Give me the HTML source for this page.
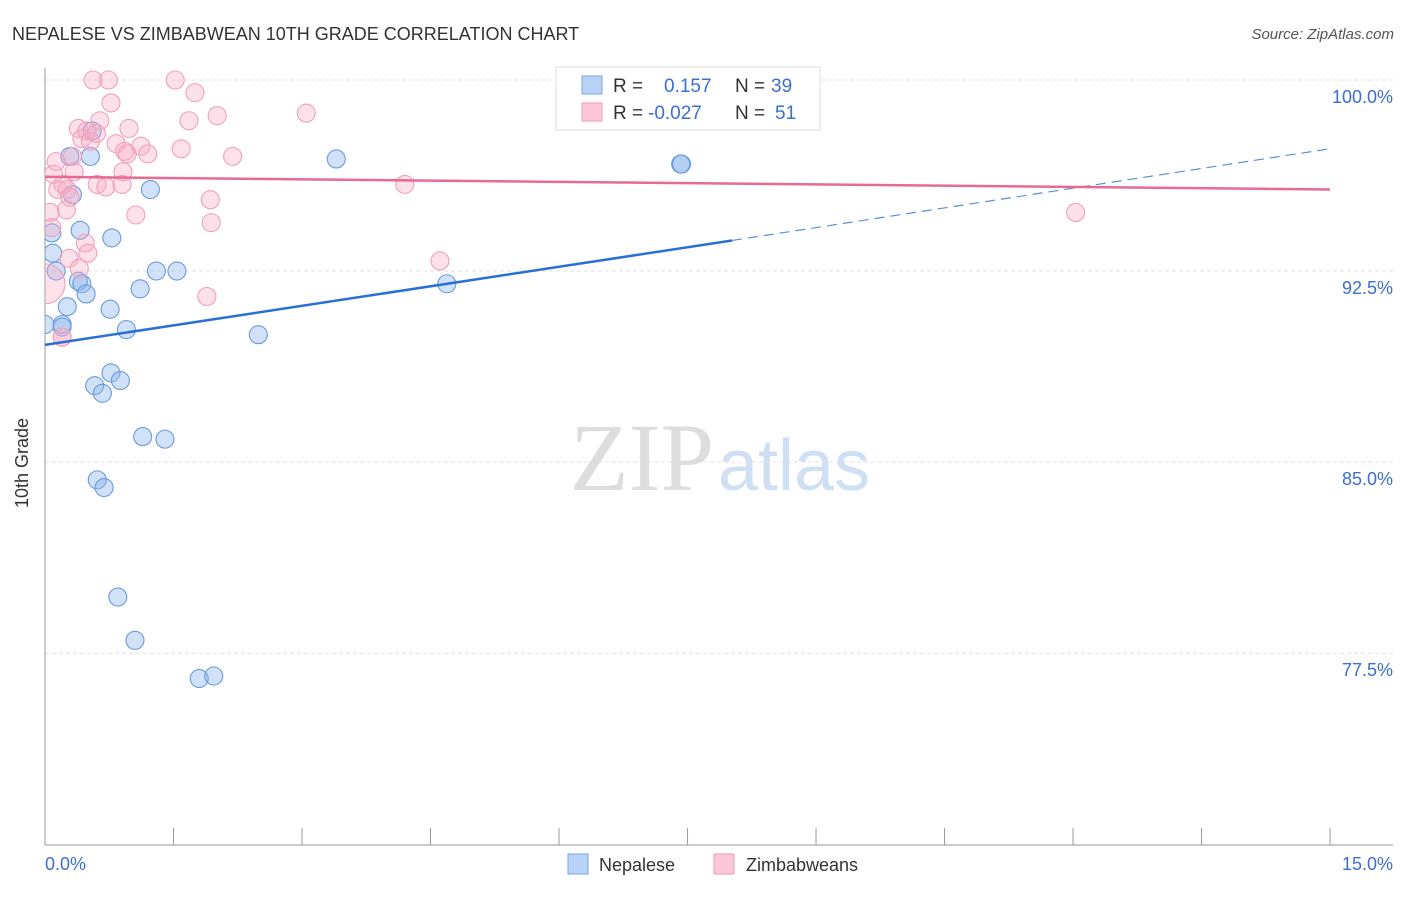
<!DOCTYPE html>
<html><head><meta charset="utf-8"><style>
body{margin:0;background:#fff;font-family:"Liberation Sans",sans-serif;}
</style></head><body>
<svg width="1406" height="892" xmlns="http://www.w3.org/2000/svg">
<defs><clipPath id="plot"><rect x="45" y="60" width="1360" height="785"/></clipPath></defs>
<text x="12" y="40" font-size="18" fill="#333">NEPALESE VS ZIMBABWEAN 10TH GRADE CORRELATION CHART</text>
<text x="1394" y="39" font-size="15" fill="#555" text-anchor="end" font-style="italic">Source: ZipAtlas.com</text>
<g id="grid"></g>
<text x="714" y="490" font-size="96" font-family="Liberation Serif,serif" fill="#ddd" text-anchor="end">ZIP</text>
<text x="718" y="490" font-size="72" fill="#cfe0f4">atlas</text>
<line x1="45" y1="68" x2="45" y2="845" stroke="#999"/>
<line x1="45" y1="845" x2="1393" y2="845" stroke="#999"/>
<g id="ticks"></g>
<g id="pts" clip-path="url(#plot)"></g>
<g id="trend"></g>
<text x="20" y="455" font-size="18" fill="#333" transform="rotate(-90 28 455)" text-anchor="middle">10th Grade</text>
<text x="45" y="870" font-size="18" fill="#3a6fd0">0.0%</text>
<text x="1393" y="870" font-size="18" fill="#3a6fd0" text-anchor="end">15.0%</text>
<g>
<rect x="556" y="67" width="264" height="63" fill="#fff" stroke="#ddd"/>
<rect x="582" y="76" width="20" height="18" fill="#b8d3f5" stroke="#7ba6e0"/>
<rect x="582" y="103" width="20" height="18" fill="#fcc8d7" stroke="#ee9ab3"/>
<text x="613" y="92" font-size="19" fill="#333">R = </text><text x="664" y="92" font-size="19" fill="#3a6fd0">0.157</text>
<text x="735" y="92" font-size="19" fill="#333">N = </text><text x="771" y="92" font-size="19" fill="#3a6fd0">39</text>
<text x="613" y="119" font-size="19" fill="#333">R = </text><text x="648" y="119" font-size="19" fill="#3a6fd0">-0.027</text>
<text x="735" y="119" font-size="19" fill="#333">N = </text><text x="775" y="119" font-size="19" fill="#3a6fd0">51</text>
</g>
<g><rect x="568" y="854" width="20" height="20" fill="#b8d3f5" stroke="#7ba6e0"/><text x="599" y="871" font-size="18" fill="#333">Nepalese</text></g>
<g><rect x="714" y="854" width="20" height="20" fill="#fcc8d7" stroke="#ee9ab3"/><text x="746" y="871" font-size="18" fill="#333">Zimbabweans</text></g>
</svg>
<script>
const yTicks=[100,92.5,85,77.5];
const yTickLabels=["100.0%","92.5%","85.0%","77.5%"];
const xTicks=[0,1.5,3,4.5,6,7.5,9,10.5,12,13.5,15];
const blueX=[0,0.09,0.08,0.13,0.2,0.26,0.29,0.32,0.39,0.41,0.43,0.48,0.53,0.55,0.58,0.61,0.67,0.69,0.76,0.77,0.78,0.85,0.88,0.95,1.05,1.11,1.14,1.23,1.3,1.4,1.54,1.8,1.97,2.49,3.4,4.69,7.42,7.43,0.2];
const blueY=[90.4,93.2,94.0,92.5,90.4,91.1,97.0,95.5,92.1,94.1,92.0,91.6,97.0,98.0,88.0,84.3,87.7,84.0,91.0,88.5,93.8,79.7,88.2,90.2,78.0,91.8,86.0,95.7,92.5,85.9,92.5,76.5,76.6,90.0,96.9,92.0,96.7,96.7,90.3];
const pinkX=[0,0.06,0.08,0.1,0.13,0.15,0.2,0.21,0.25,0.26,0.28,0.29,0.32,0.34,0.39,0.4,0.43,0.47,0.49,0.5,0.53,0.56,0.61,0.64,0.71,0.74,0.77,0.83,0.9,0.91,0.93,0.96,0.98,1.06,1.12,1.2,1.52,1.59,1.68,1.75,1.89,1.93,1.94,2.01,2.19,3.05,4.2,4.61,12.03,0.2,0.6];
const pinkY=[92.0,94.8,94.2,96.3,96.8,95.7,89.9,95.9,94.9,95.7,93.0,95.4,97.0,96.4,98.1,92.6,97.7,93.6,98.0,93.2,97.6,100,95.9,98.4,95.8,100,99.1,97.5,95.9,96.4,97.2,97.1,98.1,94.7,97.4,97.1,100,97.3,98.4,99.5,91.5,95.3,94.4,98.6,97.0,98.7,95.9,92.9,94.8,89.9,97.9];
const blueTrend=[0,89.6,8.02,93.7,15,97.3];
const pinkTrend=[0,96.2,15,95.7];
const NS="http://www.w3.org/2000/svg";
const X=v=>45+v*85.67, Y=v=>80+(100-v)*25.47;
function mk(t,a,p){const e=document.createElementNS(NS,t);for(const k in a)e.setAttribute(k,a[k]);document.getElementById(p).appendChild(e);return e;}
yTicks.forEach((t,i)=>{
 const l=mk('line',{x1:45,x2:1393,y1:Y(t),y2:Y(t),stroke:'#e0e0e0','stroke-dasharray':'4,3'},'grid');
 
 
 const tx=mk('text',{x:1393,y:Y(t)+23,'font-size':18,fill:'#3a6fd0','text-anchor':'end'},'grid');
 tx.textContent=yTickLabels[i];
 
 
});
xTicks.forEach(t=>{
 const l=mk('line',{x1:X(t),x2:X(t),y1:828,y2:845,stroke:'#999'},'ticks');
 
 
});
blueX.forEach((v,i)=>{
 const c=mk('circle',{cx:X(v),cy:Y(blueY[i]),r:9,fill:'rgba(140,180,235,0.4)',stroke:'#6a9ade','stroke-width':1.1},'pts');
 
 
});
pinkX.forEach((v,i)=>{
 const c=mk('circle',{cx:X(v),cy:Y(pinkY[i]),r:i===0?20:9,fill:'rgba(248,170,195,0.35)',stroke:'#f0a0ba','stroke-width':1.1},'pts');
 
 
});
let b=mk('line',{x1:X(blueTrend[0]),y1:Y(blueTrend[1]),x2:X(blueTrend[2]),y2:Y(blueTrend[3]),stroke:'#2a6fd6','stroke-width':2.5},'trend');


b=mk('line',{x1:X(blueTrend[2]),y1:Y(blueTrend[3]),x2:X(blueTrend[4]),y2:Y(blueTrend[5]),stroke:'#5b8fd8','stroke-width':1.2,'stroke-dasharray':'10,6'},'trend');


b=mk('line',{x1:X(pinkTrend[0]),y1:Y(pinkTrend[1]),x2:X(pinkTrend[2]),y2:Y(pinkTrend[3]),stroke:'#e86a94','stroke-width':2.5},'trend');


</script>
</body></html>
